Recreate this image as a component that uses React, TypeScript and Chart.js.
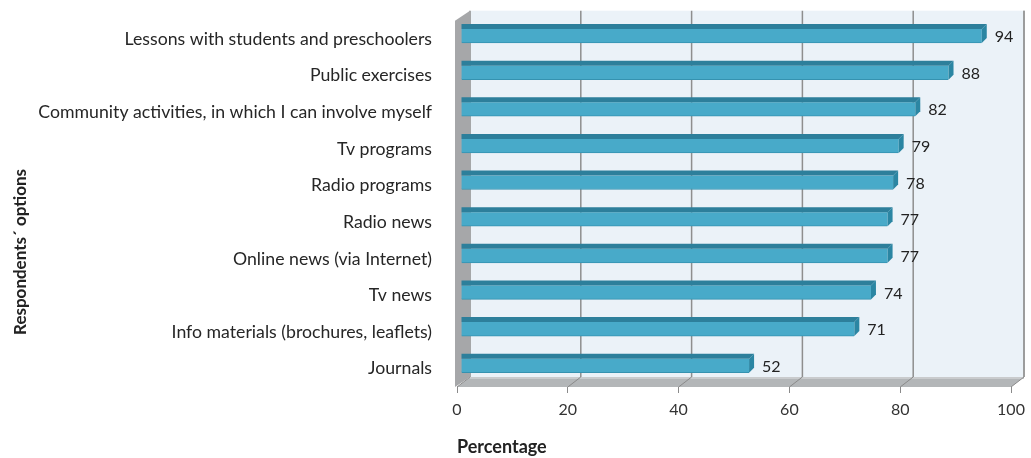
import React, { useEffect, useRef } from "react";
import { Chart, registerables } from "chart.js";

Chart.register(...registerables);

const categories = [
  "Lessons with students and preschoolers",
  "Public exercises",
  "Community activities, in which I can involve myself",
  "Tv programs",
  "Radio programs",
  "Radio news",
  "Online news (via Internet)",
  "Tv news",
  "Info materials (brochures, leaflets)",
  "Journals",
];
const values = [94, 88, 82, 79, 78, 77, 77, 74, 71, 52];
const xTicks = [0, 20, 40, 60, 80, 100];
const xTitle = "Percentage";
const yTitle = "Respondents\u00b4 options";

const FONT = "Lato, 'Open Sans', sans-serif";
const DX = 13; // wall depth x
const DY = -10; // wall depth y
const BOX = 4; // bar offset from front plane x
const BOY = -3; // bar offset y
const BDX = 5; // bar depth x
const BDY = -5; // bar depth y

const threeD = {
  id: "threeD",
  beforeDatasetsDraw(chart: any) {
    const { ctx, chartArea, scales } = chart;
    const { left, right, top, bottom } = chartArea;
    ctx.save();
    // back wall
    ctx.fillStyle = "#ebf2f8";
    ctx.fillRect(left + DX, top + DY, right - left, bottom - top);
    // grid lines on back wall
    ctx.strokeStyle = "#8e8e8e";
    ctx.lineWidth = 1.5;
    xTicks.forEach((t) => {
      const x = scales.x.getPixelForValue(t) + DX;
      ctx.beginPath();
      ctx.moveTo(x, top + DY);
      ctx.lineTo(x, bottom + DY);
      ctx.stroke();
    });
    // floor
    ctx.fillStyle = "#b3b6b8";
    ctx.beginPath();
    ctx.moveTo(left, bottom);
    ctx.lineTo(right, bottom);
    ctx.lineTo(right + DX, bottom + DY);
    ctx.lineTo(left + DX, bottom + DY);
    ctx.closePath();
    ctx.fill();
    ctx.fillStyle = "#c9cbcd";
    ctx.fillRect(left + DX, bottom + DY, right - left, 2);
    // floor diagonal tick lines
    ctx.strokeStyle = "#8a8a8a";
    ctx.lineWidth = 1;
    xTicks.forEach((t) => {
      const x = scales.x.getPixelForValue(t);
      ctx.beginPath();
      ctx.moveTo(x, bottom);
      ctx.lineTo(x + DX, bottom + DY);
      ctx.stroke();
    });
    // left wall
    ctx.fillStyle = "#a6a7a9";
    ctx.beginPath();
    ctx.moveTo(left - 2, bottom);
    ctx.lineTo(left - 2, top);
    ctx.lineTo(left + DX, top + DY);
    ctx.lineTo(left + DX, bottom + DY);
    ctx.closePath();
    ctx.fill();
    ctx.restore();
  },
  beforeDatasetDraw(chart: any) {
    chart.ctx.save();
    chart.ctx.translate(BOX, BOY);
  },
  afterDatasetDraw(chart: any) {
    chart.ctx.restore();
  },
  afterDatasetsDraw(chart: any) {
    const { ctx } = chart;
    const meta = chart.getDatasetMeta(0);
    ctx.save();
    meta.data.forEach((el: any, i: number) => {
      const h = 14;
      const x0 = el.base + BOX;
      const x1 = el.x + BOX;
      const yt = el.y + BOY - h / 2;
      const yb = el.y + BOY + h / 2;
      // top face
      ctx.fillStyle = "#2d7f9b";
      ctx.beginPath();
      ctx.moveTo(x0, yt);
      ctx.lineTo(x1, yt);
      ctx.lineTo(x1 + BDX, yt + BDY);
      ctx.lineTo(x0, yt + BDY);
      ctx.closePath();
      ctx.fill();
      // end face
      ctx.fillStyle = "#2b86a3";
      ctx.beginPath();
      ctx.moveTo(x1, yt);
      ctx.lineTo(x1 + BDX, yt + BDY);
      ctx.lineTo(x1 + BDX, yb + BDY);
      ctx.lineTo(x1, yb);
      ctx.closePath();
      ctx.fill();
      // value label
      ctx.fillStyle = "#222";
      ctx.font = `16px ${FONT}`;
      ctx.textAlign = "left";
      ctx.textBaseline = "middle";
      ctx.fillText(String(values[i]), x1 + BDX + 8, el.y - 2);
    });
    // right edge of back wall
    const { chartArea } = chart;
    ctx.strokeStyle = "#9a9a9a";
    ctx.lineWidth = 1.5;
    ctx.beginPath();
    ctx.moveTo(chartArea.right + DX, chartArea.top + DY);
    ctx.lineTo(chartArea.right + DX, chartArea.bottom + DY);
    ctx.stroke();
    ctx.restore();
  },
  afterDraw(chart: any) {
    const { ctx } = chart;
    ctx.save();
    ctx.translate(21, 252);
    ctx.rotate(-Math.PI / 2);
    ctx.fillStyle = "#222";
    ctx.font = `bold 17px ${FONT}`;
    ctx.textAlign = "center";
    ctx.textBaseline = "middle";
    ctx.fillText(yTitle, 0, 0);
    ctx.restore();
  },
};

export default function App() {
  const ref = useRef<HTMLCanvasElement | null>(null);
  useEffect(() => {
    if (!ref.current) return;
    const chart = new Chart(ref.current, {
      type: "bar",
      data: {
        labels: categories,
        datasets: [
          {
            data: values,
            backgroundColor: "#48aac9",
            borderColor: "#3592b0",
            borderWidth: { bottom: 1, top: 0, left: 0, right: 0 } as any,
            barThickness: 14,
          },
        ],
      },
      options: {
        indexAxis: "y",
        animation: false,
        responsive: false,
        layout: { padding: { top: 20.7, right: 20, left: 0, bottom: 0 } },
        plugins: { legend: { display: false }, tooltip: { enabled: false } },
        scales: {
          x: {
            min: 0,
            max: 100,
            afterFit: (s: any) => {
              s.height = 71;
              s.paddingLeft = 0;
              s.paddingRight = 0;
            },
            ticks: {
              stepSize: 20,
              color: "#333",
              font: { family: FONT, size: 16 },
              padding: 7,
            },
            grid: {
              display: true,
              drawOnChartArea: false,
              drawTicks: true,
              tickLength: 6,
              color: "#8a8a8a",
            },
            border: { display: false },
            title: {
              display: true,
              text: xTitle,
              align: "start",
              color: "#222",
              font: { family: FONT, size: 18, weight: "bold" },
              padding: { top: 0, bottom: 0 },
            },
          },
          y: {
            afterFit: (s: any) => {
              s.width = 457;
              s.paddingTop = 0;
              s.paddingBottom = 0;
            },
            ticks: {
              color: "#262626",
              font: { family: FONT, size: 17.7 },
              padding: 17,
            },
            grid: { display: false },
            border: { display: false },
          },
        },
      } as any,
      plugins: [threeD],
    });
    return () => chart.destroy();
  }, []);
  return (
    <div style={{ position: "absolute", left: 0, top: 0, width: 1031, height: 458, background: "#fff" }}>
      <canvas ref={ref} width={1031} height={458} style={{ display: "block" }} />
    </div>
  );
}
